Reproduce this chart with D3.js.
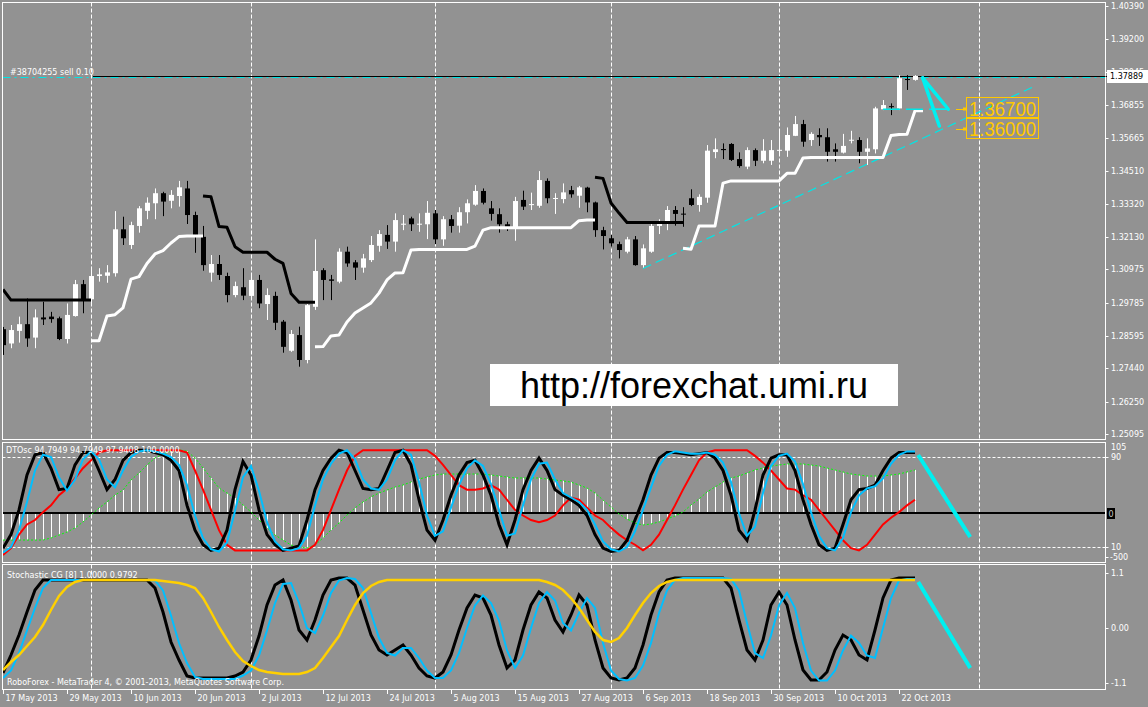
<!DOCTYPE html>
<html><head><meta charset="utf-8">
<script src="https://cdn.jsdelivr.net/npm/d3@7"></script>
<style>html,body{margin:0;padding:0;background:#929292;}svg{display:block}</style>
</head><body>
<svg id="chart" width="1148" height="707"></svg>
<script>
// ---------------- DATA ----------------
const dateLabels = ["17 May 2013","29 May 2013","10 Jun 2013","20 Jun 2013","2 Jul 2013","12 Jul 2013","24 Jul 2013","5 Aug 2013","15 Aug 2013","27 Aug 2013","6 Sep 2013","18 Sep 2013","30 Sep 2013","10 Oct 2013","22 Oct 2013"];
const dateLabelBars = [0,8,16,24,32,40,48,56,64,72,80,88,96,104,112];
const monthGridBars = [11,31,54,76,97,122];
const priceTicks = [1.40390,1.39200,1.38045,1.36855,1.35665,1.34510,1.33320,1.32130,1.30975,1.29785,1.28595,1.27440,1.26250,1.25095];

const openP  = [1.2884,1.2833,1.2878,1.2902,1.2854,1.2926,1.2929,1.2923,1.2849,1.2931,1.3045,1.2991,1.3074,1.3075,1.3084,1.3241,1.3185,1.3253,1.3307,1.3334,1.3370,1.3343,1.3360,1.3387,1.3292,1.3214,1.3086,1.3117,1.3074,1.3006,1.3034,1.3003,1.3060,1.2974,1.3003,1.2911,1.2807,1.2863,1.2774,1.2964,1.3095,1.3062,1.3054,1.3161,1.3123,1.3104,1.3131,1.3182,1.3221,1.3197,1.3259,1.3280,1.3260,1.3259,1.3298,1.3205,1.3277,1.3254,1.3302,1.3329,1.3378,1.3316,1.3295,1.3259,1.3247,1.3346,1.3329,1.3325,1.3414,1.3350,1.3349,1.3381,1.3361,1.3390,1.3337,1.3238,1.3209,1.3188,1.3161,1.3205,1.3113,1.3161,1.3253,1.3266,1.3310,1.3297,1.3352,1.3328,1.3354,1.3517,1.3528,1.3546,1.3492,1.3465,1.3524,1.3486,1.3486,1.3523,1.3522,1.3575,1.3617,1.3560,1.3578,1.3570,1.3527,1.3515,1.3559,1.3560,1.3518,1.3527,1.3670,1.3681,1.3673,1.3778,1.3775];
const highP  = [1.2892,1.2899,1.2929,1.2994,1.2955,1.2982,1.2946,1.2929,1.2976,1.3060,1.3060,1.3107,1.3102,1.3113,1.3306,1.3286,1.3268,1.3324,1.3355,1.3387,1.3375,1.3381,1.3414,1.3414,1.3304,1.3253,1.3149,1.3149,1.3086,1.3054,1.3102,1.3078,1.3078,1.3030,1.3018,1.2917,1.2881,1.2893,1.2974,1.3205,1.3102,1.3078,1.3173,1.3179,1.3131,1.3153,1.3217,1.3238,1.3256,1.3298,1.3292,1.3286,1.3298,1.3342,1.3310,1.3288,1.3292,1.3320,1.3348,1.3399,1.3387,1.3342,1.3316,1.3268,1.3357,1.3379,1.3372,1.3449,1.3423,1.3370,1.3405,1.3396,1.3396,1.3393,1.3340,1.3250,1.3221,1.3197,1.3214,1.3217,1.3187,1.3262,1.3277,1.3324,1.3324,1.3320,1.3384,1.3366,1.3542,1.3566,1.3548,1.3549,1.3516,1.3534,1.3530,1.3563,1.3560,1.3590,1.3605,1.3646,1.3632,1.3588,1.3602,1.3602,1.3548,1.3582,1.3593,1.3570,1.3566,1.3679,1.3703,1.3691,1.3792,1.3792,1.3792];
const lowP   = [1.2792,1.2816,1.2836,1.2821,1.2816,1.2899,1.2907,1.2845,1.2833,1.2929,1.2941,1.2976,1.3054,1.3050,1.3072,1.3185,1.3171,1.3229,1.3277,1.3277,1.3288,1.3316,1.3322,1.3260,1.3157,1.3093,1.3054,1.3060,1.2980,1.2998,1.2988,1.2994,1.2959,1.2917,1.2881,1.2800,1.2803,1.2750,1.2762,1.2953,1.2988,1.2988,1.3048,1.3107,1.3060,1.3086,1.3124,1.3161,1.3171,1.3161,1.3238,1.3235,1.3232,1.3206,1.3188,1.3182,1.3229,1.3229,1.3262,1.3325,1.3330,1.3272,1.3229,1.3235,1.3200,1.3310,1.3310,1.3318,1.3334,1.3296,1.3334,1.3354,1.3318,1.3302,1.3214,1.3169,1.3179,1.3137,1.3155,1.3111,1.3104,1.3157,1.3224,1.3238,1.3254,1.3250,1.3324,1.3304,1.3336,1.3495,1.3492,1.3485,1.3461,1.3456,1.3467,1.3477,1.3471,1.3513,1.3500,1.3574,1.3536,1.3539,1.3539,1.3483,1.3483,1.3512,1.3548,1.3477,1.3471,1.3512,1.3667,1.3649,1.3667,1.3739,1.3772];
const closeP = [1.2827,1.2881,1.2902,1.2851,1.2926,1.2919,1.2920,1.2849,1.2935,1.3045,1.2988,1.3074,1.3080,1.3087,1.3241,1.3209,1.3256,1.3316,1.3336,1.3370,1.3340,1.3364,1.3391,1.3292,1.3221,1.3113,1.3117,1.3078,1.3006,1.3038,1.3004,1.3060,1.2976,1.3006,1.2907,1.2821,1.2867,1.2774,1.2970,1.3092,1.3060,1.3057,1.3161,1.3119,1.3104,1.3137,1.3185,1.3224,1.3197,1.3274,1.3261,1.3259,1.3261,1.3300,1.3205,1.3277,1.3253,1.3302,1.3334,1.3378,1.3336,1.3296,1.3259,1.3248,1.3342,1.3322,1.3331,1.3417,1.3352,1.3353,1.3373,1.3366,1.3391,1.3337,1.3238,1.3217,1.3191,1.3167,1.3205,1.3113,1.3173,1.3253,1.3265,1.3310,1.3296,1.3295,1.3328,1.3357,1.3522,1.3527,1.3524,1.3489,1.3467,1.3524,1.3486,1.3522,1.3524,1.3525,1.3578,1.3617,1.3554,1.3582,1.3570,1.3518,1.3518,1.3539,1.3561,1.3518,1.3530,1.3673,1.3685,1.3678,1.3781,1.3776,1.3789];

// trailing stop lines [first bar, values]
const trailWhite = [
  [11,[1.2843,1.2843,1.2931,1.2936,1.2960,1.3063,1.3072,1.3119,1.3153,1.3165,1.3192,1.3215,1.3217,1.3217,1.3217]],
  [39,[1.2821,1.2822,1.2860,1.2863,1.2910,1.2942,1.2960,1.2978,1.3013,1.3060,1.3085,1.3086,1.3167,1.3169,1.3169,1.3169,1.3169,1.3169,1.3169,1.3169,1.3181,1.3238,1.3247,1.3247,1.3247,1.3247,1.3247,1.3247,1.3247,1.3247,1.3247,1.3247,1.3247,1.3272,1.3274,1.3274]],
  [85,[1.3173,1.3170,1.3253,1.3253,1.3253,1.3406,1.3414,1.3414,1.3414,1.3414,1.3414,1.3414,1.3414,1.3441,1.3441,1.3496,1.3498,1.3498,1.3498,1.3498,1.3498,1.3498,1.3498,1.3498,1.3498,1.3498,1.3576,1.3580,1.3581,1.3665,1.3665]]
];
const trailBlack = [
  [0,[1.3026,1.2988,1.2988,1.2988,1.2988,1.2988,1.2988,1.2988,1.2988,1.2988,1.2988,1.2988]],
  [25,[1.3360,1.3357,1.3251,1.3248,1.3179,1.3159,1.3159,1.3159,1.3159,1.3134,1.3119,1.3012,1.2980,1.2980,1.2980]],
  [74,[1.3427,1.3423,1.3335,1.3299,1.3265,1.3265,1.3265,1.3265,1.3265,1.3265,1.3265,1.3265]]
];
const trendLine = [[80,1.3101],[129,1.3753]];
const bidPrice = 1.37889;
const orderPrice = 1.3785;
const orderText = "#38704255 sell 0.10";
const levelPrices = [1.36700, 1.36000];
const levelTexts = ["1.36700","1.36000"];
const tpLine = [[110,1.3670],[118.2,1.3670]];
const arrowLines = [
  [[114.96,1.3782],[118.16,1.3670]],
  [[114.96,1.3782],[117.04,1.3610]],
  [[116.1,1.3670],[118.1,1.3670]]
];
const siteText = "http://forexchat.umi.ru";

// DTOsc
const dtLabel = "DTOsc 94.7949 94.7949 97.9408 100.0000";
const dtBlack = [9,21,43,74,92,94,80,61,62,83,94,94,78,61,70,87,94,96,96,94,92,87,78,47,25,12,7,9,25,61,86,74,43,21,12,7,9,11,34,61,78,89,96,94,78,62,61,62,78,94,96,83,52,25,16,34,56,74,85,87,74,56,30,12,34,61,78,89,78,61,56,52,47,38,21,9,6,7,16,34,52,74,89,94,94,93,92,93,94,89,78,56,25,16,43,74,89,92,92,78,52,30,12,7,9,30,52,61,62,65,78,89,94,94,94];
const dtBlue  = [5,10,25,50,78,92,90,72,60,70,88,95,88,70,63,78,90,95,96,95,93,90,83,65,38,18,8,6,14,42,72,82,60,32,15,8,7,9,20,47,70,84,93,96,88,70,62,61,70,87,96,92,68,38,20,24,45,65,80,87,82,66,43,20,22,47,70,84,85,70,58,54,50,43,30,15,8,6,10,24,43,63,82,92,95,94,93,93,94,92,85,68,40,20,28,58,82,91,93,86,66,41,20,9,7,18,41,56,62,64,71,84,92,95,95];
const dtRed   = [3,9,21,30,34,41,47,56,62,71,80,87,94,96,96,96,96,96,96,96,96,96,96,94,78,61,43,25,12,7,7,7,7,7,7,7,7,7,7,12,25,43,61,78,91,96,96,96,96,96,96,96,96,96,91,83,74,65,61,61,62,65,61,52,43,38,34,32,34,38,47,54,52,45,38,34,27,21,16,12,7,12,21,34,47,61,74,87,94,96,96,96,96,96,91,85,78,70,62,61,56,52,43,34,25,16,9,7,12,21,30,36,41,47,52];
const dtHist  = [-307,-307,-307,-307,-307,-307,-284,-250,-216,-170,-102,-23,57,125,204,261,375,454,545,625,670,704,716,704,625,511,398,284,227,170,91,11,-80,-170,-250,-307,-364,-386,-398,-364,-284,-193,-114,-23,57,125,182,227,261,295,318,352,386,409,432,443,443,443,443,443,443,432,420,409,398,398,398,398,386,375,364,352,318,284,227,148,68,-11,-68,-114,-136,-125,-102,-68,-34,11,91,159,239,295,352,398,420,454,489,511,534,545,557,557,557,545,534,511,489,466,443,432,420,420,420,432,443,466,489];
const dtForecast = [[114.4,91.8],[120.9,18.9]];
const dtAxisLevels = [90,10];

// Stochastic CG
const stLabel = "Stochastic CG [8] 1.0000 0.9792";
const stBlack = [-0.90,-0.54,-0.14,0.32,0.76,0.96,0.96,0.96,0.96,0.96,0.96,0.96,0.96,0.96,0.96,0.96,0.96,0.96,0.96,0.80,0.32,-0.28,-0.64,-0.96,-1,-1,-1,-1,-1,-0.96,-0.88,-0.64,-0.16,0.46,0.86,0.96,0.56,-0.04,-0.24,0.16,0.66,0.96,1,1,0.86,0.36,-0.14,-0.44,-0.54,-0.44,-0.34,-0.54,-0.80,-0.96,-1,-0.88,-0.54,-0.04,0.40,0.66,0.60,0.26,-0.34,-0.80,-0.64,-0.04,0.46,0.72,0.60,0.16,-0.08,0.26,0.66,0.46,-0.24,-0.80,-1,-1.04,-1,-0.80,-0.34,0.26,0.72,0.96,1,1,1,1,1,1,1,0.80,0.16,-0.44,-0.64,-0.24,0.46,0.72,0.46,-0.24,-0.84,-1.04,-1.04,-0.88,-0.44,-0.14,-0.24,-0.54,-0.64,-0.04,0.60,0.96,1,1,1];
const stBlue  = [-1,-0.85,-0.5,-0.05,0.4,0.8,0.96,0.96,0.96,0.96,0.96,0.96,0.96,0.96,0.96,0.96,0.96,0.96,0.96,0.95,0.75,0.25,-0.3,-0.7,-0.98,-1.02,-1.02,-1.02,-1.02,-1.02,-0.95,-0.85,-0.55,-0.05,0.5,0.88,0.9,0.5,0,-0.1,0.25,0.7,0.95,1,0.98,0.8,0.3,-0.2,-0.5,-0.55,-0.4,-0.4,-0.6,-0.85,-1,-1,-0.85,-0.5,0,0.45,0.65,0.5,0.15,-0.45,-0.8,-0.55,0,0.5,0.72,0.55,0.1,-0.05,0.3,0.6,0.4,-0.3,-0.85,-1.02,-1.05,-1,-0.75,-0.3,0.3,0.75,0.96,1,1,1,1,1,1,0.98,0.75,0.1,-0.5,-0.6,-0.15,0.45,0.7,0.4,-0.3,-0.85,-1.05,-1.05,-0.85,-0.45,-0.15,-0.3,-0.55,-0.6,0,0.6,0.95,0.98,0.98];
const stGold  = [-0.84,-0.68,-0.54,-0.36,-0.18,0.06,0.36,0.64,0.82,0.92,0.96,0.96,0.96,0.96,0.96,0.96,0.96,0.96,0.96,0.96,0.94,0.92,0.90,0.86,0.80,0.60,0.32,0.02,-0.24,-0.48,-0.66,-0.76,-0.84,-0.88,-0.90,-0.92,-0.92,-0.92,-0.88,-0.80,-0.60,-0.38,-0.16,0.16,0.46,0.70,0.84,0.92,0.96,0.96,0.96,0.96,0.96,0.96,0.96,0.96,0.96,0.96,0.96,0.96,0.96,0.96,0.96,0.96,0.96,0.96,0.96,0.96,0.92,0.86,0.76,0.60,0.40,0.16,-0.08,-0.24,-0.28,-0.20,0,0.26,0.50,0.70,0.84,0.92,0.96,0.96,0.96,0.96,0.96,0.96,0.96,0.96,0.96,0.96,0.96,0.96,0.96,0.96,0.96,0.96,0.96,0.96,0.96,0.96,0.96,0.96,0.96,0.96,0.96,0.96,0.96,0.96,0.96,0.96,0.96];
const stForecast = [[114.4,0.92],[120.9,-0.8]];
const stAxisTicks = [1.1,0,-1.1];
const stAxisText = ["1.1","0.00","-1.1"];
const copyrightText = "RoboForex - MetaTrader 4, © 2001-2013, MetaQuotes Software Corp.";

// ---------------- DRAW ----------------
const svg = d3.select("#chart");
const FONT = "DejaVu Sans";
const FG = "#ffffff";
const L = 2.5, R = 1105.5;
const P = { main:[2.5,439.5], dt:[442.5,562.5], st:[564.5,689.5] };

const x = d3.scaleLinear().domain([0,1]).range([3,11]);
const yP = d3.scaleLinear().domain([1.25095,1.40390]).range([434,6]);
const yO = d3.scaleLinear().domain([10,90]).range([547,457]);
const yH = d3.scaleLinear().domain([-500,0]).range([557,513]);
const yS = d3.scaleLinear().domain([-1.1,1.1]).range([683,573]);

svg.append("rect").attr("width",1148).attr("height",707).attr("fill","#929292");
const defs = svg.append("defs");
function clip(id, y0, y1){ defs.append("clipPath").attr("id",id).append("rect").attr("x",L+0.5).attr("y",y0+0.5).attr("width",R-L-1).attr("height",y1-y0-1); return svg.append("g").attr("clip-path",`url(#${id})`); }
const gMain = clip("cm", ...P.main);
const gDt = clip("cd", ...P.dt);
const gSt = clip("cs", ...P.st);

// vertical month grid
[[gMain,P.main],[gDt,P.dt],[gSt,P.st]].forEach(([g,p])=>{
  g.selectAll(null).data(monthGridBars).join("line")
    .attr("x1",d=>Math.round(x(d))+0.5).attr("x2",d=>Math.round(x(d))+0.5)
    .attr("y1",p[0]).attr("y2",p[1]).attr("stroke","#fff").attr("stroke-width",1).attr("stroke-dasharray","4,2");
});

// trend line (dashed cyan)
const lineP = d3.line().x(d=>x(d[0])).y(d=>yP(d[1]));
gMain.append("path").attr("d",lineP(trendLine)).attr("stroke","#00E6E6").attr("stroke-width",1.2).attr("fill","none").attr("stroke-dasharray","9,5");

// order line (dash-dot cyan) and bid line
gMain.append("line").attr("x1",L).attr("x2",R).attr("y1",Math.round(yP(orderPrice))+0.5).attr("y2",Math.round(yP(orderPrice))+0.5)
  .attr("stroke","#00E6E6").attr("stroke-width",1).attr("stroke-dasharray","8,4,2,4");
gMain.append("line").attr("x1",93).attr("x2",R).attr("y1",Math.round(yP(bidPrice))+0.5).attr("y2",Math.round(yP(bidPrice))+0.5)
  .attr("stroke","#000").attr("stroke-width",1);

// candles
const idx = d3.range(closeP.length);
const cg = gMain.append("g");
idx.forEach(i=>{
  const up = closeP[i] >= openP[i];
  const col = up ? "#fff" : "#000";
  const cx = Math.round(x(i))+0.5;
  cg.append("line").attr("x1",cx).attr("x2",cx).attr("y1",yP(highP[i])).attr("y2",yP(lowP[i])).attr("stroke",col).attr("stroke-width",1);
  const yt = yP(Math.max(openP[i],closeP[i])), yb = yP(Math.min(openP[i],closeP[i]));
  cg.append("rect").attr("x",cx-2.5).attr("y",yt).attr("width",5).attr("height",Math.max(1,yb-yt)).attr("fill",col);
});

// trailing lines
trailWhite.forEach(([s,v])=>{
  gMain.append("path").attr("d",lineP(v.map((p,k)=>[s+k,p]))).attr("stroke","#fff").attr("stroke-width",3).attr("fill","none").attr("stroke-linejoin","round");
});
trailBlack.forEach(([s,v])=>{
  gMain.append("path").attr("d",lineP(v.map((p,k)=>[s+k,p]))).attr("stroke","#000").attr("stroke-width",3).attr("fill","none").attr("stroke-linejoin","round");
});

// take-profit dashed level & arrow
gMain.append("path").attr("d",lineP(tpLine)).attr("stroke","#00E6E6").attr("stroke-width",1.5).attr("fill","none").attr("stroke-dasharray","17,6");
arrowLines.forEach((a,k)=>{
  gMain.append("path").attr("d",lineP(a)).attr("stroke","#00F0F0").attr("stroke-width",k===2?1.5:3.5).attr("fill","none").attr("stroke-linecap","round");
});

// gold level labels
levelPrices.forEach((p,k)=>{
  const yy = Math.round(yP(p));
  gMain.append("line").attr("x1",956).attr("x2",963).attr("y1",yy+0.5).attr("y2",yy+0.5).attr("stroke","#FFC800");
  gMain.append("rect").attr("x",963).attr("y",yy-1.5).attr("width",3).attr("height",3).attr("fill","#FFC800");
  gMain.append("rect").attr("x",966.5).attr("y",yy-11.5).attr("width",72).attr("height",21).attr("fill","none").attr("stroke","#FFC800");
  gMain.append("text").attr("x",969).attr("y",yy+7).attr("font-family","Liberation Sans").attr("font-size",20)
    .attr("textLength",67).attr("lengthAdjust","spacingAndGlyphs").attr("fill","#FFC800").text(levelTexts[k]);
});

// order label
gMain.append("text").attr("x",10).attr("y",75).attr("font-family",FONT).attr("font-size",8).attr("fill",FG).text(orderText);

// site box
svg.append("rect").attr("x",490).attr("y",364).attr("width",408).attr("height",42).attr("fill","#fff");
svg.append("text").attr("x",694).attr("y",398).attr("text-anchor","middle").attr("font-family","Liberation Sans").attr("font-size",36).attr("fill","#000").text(siteText);

// ---- DTOsc panel ----
gDt.selectAll(null).data(dtAxisLevels).join("line")
  .attr("x1",L).attr("x2",R).attr("y1",d=>Math.round(yO(d))+0.5).attr("y2",d=>Math.round(yO(d))+0.5)
  .attr("stroke","#fff").attr("stroke-dasharray","3,2");
gDt.selectAll(null).data(idx).join("line")
  .attr("x1",i=>Math.round(x(i))+0.5).attr("x2",i=>Math.round(x(i))+0.5)
  .attr("y1",yH(0)).attr("y2",i=>yH(dtHist[i])).attr("stroke","#fff").attr("stroke-width",1);
gDt.append("line").attr("x1",L).attr("x2",R).attr("y1",yH(0)).attr("y2",yH(0)).attr("stroke","#000").attr("stroke-width",2);
const lineH = d3.line().x((d,i)=>x(i)).y(d=>yH(d));
gDt.append("path").attr("d",lineH(dtHist)).attr("stroke","#00FF00").attr("stroke-width",1).attr("fill","none").attr("stroke-dasharray","2,2");
const lineO = d3.line().x((d,i)=>x(i)).y(d=>yO(d));
gDt.append("path").attr("d",lineO(dtRed)).attr("stroke","#FF0000").attr("stroke-width",2).attr("fill","none");
gDt.append("path").attr("d",lineO(dtBlack)).attr("stroke","#000").attr("stroke-width",3).attr("fill","none");
gDt.append("path").attr("d",lineO(dtBlue)).attr("stroke","#00BFFF").attr("stroke-width",2).attr("fill","none");
gDt.append("path").attr("d",d3.line().x(d=>x(d[0])).y(d=>yO(d[1]))(dtForecast)).attr("stroke","#00F0F0").attr("stroke-width",4).attr("fill","none");
gDt.append("text").attr("x",6).attr("y",453).attr("font-family",FONT).attr("font-size",8).attr("fill",FG).text(dtLabel);

// ---- Stochastic panel ----
const lineS = d3.line().x((d,i)=>x(i)).y(d=>yS(d));
gSt.append("path").attr("d",lineS(stBlack)).attr("stroke","#000").attr("stroke-width",3).attr("fill","none");
gSt.append("path").attr("d",lineS(stBlue)).attr("stroke","#00BFFF").attr("stroke-width",2).attr("fill","none");
gSt.append("path").attr("d",lineS(stGold)).attr("stroke","#FFD000").attr("stroke-width",2.5).attr("fill","none");
gSt.append("path").attr("d",d3.line().x(d=>x(d[0])).y(d=>yS(d[1]))(stForecast)).attr("stroke","#00F0F0").attr("stroke-width",4).attr("fill","none");
gSt.append("text").attr("x",7).attr("y",578).attr("font-family",FONT).attr("font-size",8).attr("fill",FG).text(stLabel);
svg.append("text").attr("x",7).attr("y",685).attr("font-family",FONT).attr("font-size",8).attr("fill",FG).text(copyrightText);

// ---- frames ----
Object.values(P).forEach(p=>{
  svg.append("rect").attr("x",L).attr("y",p[0]).attr("width",R-L).attr("height",p[1]-p[0]).attr("fill","none").attr("stroke","#fff").attr("stroke-width",1);
});

// ---- right axes ----
const ax = svg.append("g").attr("font-family",FONT).attr("font-size",8).attr("fill",FG);
priceTicks.forEach(v=>{
  const yy = Math.round(yP(v));
  ax.append("line").attr("x1",R).attr("x2",R+3).attr("y1",yy+0.5).attr("y2",yy+0.5).attr("stroke","#fff");
  ax.append("text").attr("x",1111).attr("y",yy+3).text(v.toFixed(5));
});
// bid box
const by = Math.round(yP(bidPrice));
svg.append("line").attr("x1",R).attr("x2",R+3).attr("y1",by+0.5).attr("y2",by+0.5).attr("stroke","#000");
svg.append("rect").attr("x",1107).attr("y",by-6).attr("width",41).attr("height",13).attr("fill","#fff");
svg.append("text").attr("x",1110).attr("y",by+3).attr("font-family",FONT).attr("font-size",8).attr("fill","#000").text(bidPrice.toFixed(5));

// DTOsc axis labels
ax.append("text").attr("x",1111).attr("y",450).text("105");
dtAxisLevels.forEach(v=>{
  const yy = Math.round(yO(v));
  ax.append("line").attr("x1",R).attr("x2",R+3).attr("y1",yy+0.5).attr("y2",yy+0.5).attr("stroke","#fff");
  ax.append("text").attr("x",1111).attr("y",yy+3).text(String(v));
});
ax.append("line").attr("x1",R).attr("x2",R+3).attr("y1",Math.round(yH(-500))+0.5).attr("y2",Math.round(yH(-500))+0.5).attr("stroke","#fff");
ax.append("text").attr("x",1110).attr("y",Math.round(yH(-500))+3).text("-500");
svg.append("rect").attr("x",1107).attr("y",yH(0)-5).attr("width",8).attr("height",11).attr("fill","#000");
svg.append("text").attr("x",1108.5).attr("y",yH(0)+3.5).attr("font-family",FONT).attr("font-size",8).attr("fill","#c8c8c8").text("0");

// stoch axis
stAxisTicks.forEach((v,k)=>{
  const yy = Math.round(yS(v));
  ax.append("line").attr("x1",R).attr("x2",R+3).attr("y1",yy+0.5).attr("y2",yy+0.5).attr("stroke","#fff");
  ax.append("text").attr("x",1111).attr("y",yy+3).text(stAxisText[k]);
});

// time axis
dateLabelBars.forEach((b,k)=>{
  const xx = Math.round(x(b))+0.5;
  ax.append("line").attr("x1",xx).attr("x2",xx).attr("y1",689.5).attr("y2",694).attr("stroke","#fff");
  ax.append("text").attr("x",xx+2).attr("y",701).text(dateLabels[k]);
});
</script>
</body></html>
